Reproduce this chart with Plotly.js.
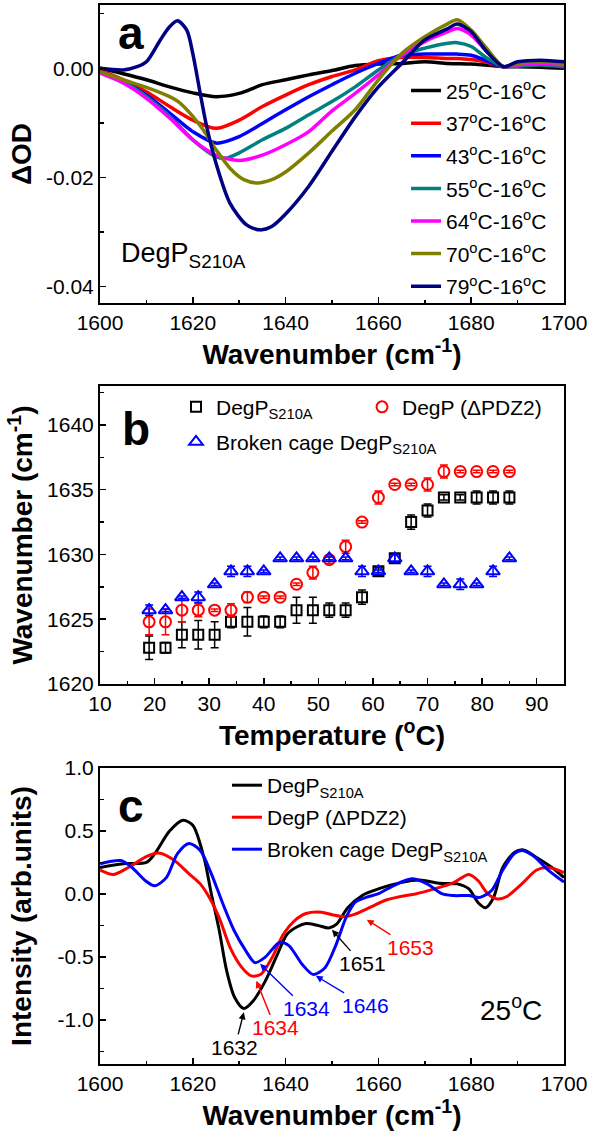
<!DOCTYPE html>
<html><head><meta charset="utf-8">
<script src="https://cdn.plot.ly/plotly-3.0.1.min.js"></script>
<style>html,body{margin:0;padding:0;background:#fff}#chart{width:593px;height:1140px}</style>
</head><body><div id="chart"></div>
<script>
// ---------- Panel a: difference spectra ----------
const aNames = ['25<sup>o</sup>C-16<sup>o</sup>C','37<sup>o</sup>C-16<sup>o</sup>C','43<sup>o</sup>C-16<sup>o</sup>C','55<sup>o</sup>C-16<sup>o</sup>C','64<sup>o</sup>C-16<sup>o</sup>C','70<sup>o</sup>C-16<sup>o</sup>C','79<sup>o</sup>C-16<sup>o</sup>C'];
const aColors = ['#000000','#ff0000','#0000ff','#008080','#ff00ff','#808000','#000080'];
const wn25 = [1600,1605,1610,1615,1620,1625,1630,1635,1640,1645,1650,1655,1660,1665,1670,1675,1680,1683,1687,1690,1695,1700];
const od25 = [0,-0.0010,-0.0021,-0.0034,-0.0045,-0.0052,-0.0046,-0.0030,-0.0021,-0.0012,-0.0004,0.0005,0.0008,0.0009,0.0012,0.0009,0.0008,0.0006,0.0003,0.0003,0.0002,0];
const wn37 = [1600,1605,1610,1615,1620,1625,1630,1635,1640,1645,1650,1655,1660,1665,1670,1675,1677,1680,1683,1687,1690,1695,1700];
const od37 = [-0.0004,-0.0021,-0.0043,-0.0070,-0.0095,-0.0110,-0.0095,-0.0070,-0.0049,-0.0030,-0.0015,-0.0003,0.0014,0.0020,0.0020,0.0018,0.0018,0.0016,0.0012,0.0003,0.0006,0.0009,0.0006];
const wn43 = [1600,1605,1610,1615,1620,1625,1630,1635,1640,1645,1650,1655,1660,1665,1670,1675,1677,1680,1683,1687,1690,1695,1700];
const od43 = [-0.0006,-0.0024,-0.0049,-0.0082,-0.0116,-0.0137,-0.0125,-0.0101,-0.0076,-0.0052,-0.0030,-0.0009,0.0009,0.0024,0.0026,0.0026,0.0026,0.0024,0.0015,0.0003,0.0009,0.0013,0.0009];
const wn55 = [1600,1605,1610,1615,1620,1625,1627,1630,1635,1640,1645,1650,1655,1660,1665,1670,1675,1677,1680,1683,1687,1690,1695,1700];
const od55 = [-0.0006,-0.0024,-0.0052,-0.0088,-0.0131,-0.0162,-0.0165,-0.0155,-0.0131,-0.0110,-0.0085,-0.0061,-0.0034,-0.0003,0.0024,0.0037,0.0046,0.0047,0.0040,0.0021,0.0003,0.0004,0.0006,0.0003];
const wn64 = [1600,1605,1610,1615,1620,1625,1630,1635,1640,1645,1650,1655,1660,1665,1670,1675,1677,1680,1683,1687,1690,1695,1700];
const od64 = [-0.0009,-0.0027,-0.0055,-0.0091,-0.0131,-0.0159,-0.0169,-0.0159,-0.0140,-0.0116,-0.0078,-0.0046,-0.0012,0.0024,0.0049,0.0067,0.0073,0.0061,0.0034,0.0003,0.0006,0.0009,0.0006];
const wn70 = [1600,1605,1610,1615,1617,1620,1622,1625,1628,1631,1634,1637,1640,1645,1650,1655,1660,1665,1670,1675,1677,1680,1683,1687,1690,1695,1700];
const od70 = [-0.0006,-0.0021,-0.0035,-0.0052,-0.0062,-0.0088,-0.0110,-0.0149,-0.0183,-0.0204,-0.0210,-0.0204,-0.0190,-0.0155,-0.0115,-0.0076,-0.0021,0.0027,0.0058,0.0082,0.0089,0.0070,0.0040,0.0003,0.0009,0.0012,0.0009];
const wn79 = [1600,1605,1608,1610,1613,1615,1616.7,1618.7,1620,1621.6,1623,1625,1628,1631.6,1634.5,1637,1640,1645,1650,1655,1660,1665,1670,1675,1677,1680,1683,1687,1690,1695,1700];
const od79 = [0,-0.0003,0.0003,0.0012,0.0052,0.0076,0.0087,0.0070,0.0027,-0.0046,-0.0107,-0.0174,-0.0247,-0.0287,-0.0296,-0.0290,-0.0267,-0.0216,-0.0152,-0.0089,-0.0034,0.0009,0.0052,0.0073,0.0081,0.0067,0.0034,0.0003,0.0012,0.0015,0.0012];
const aX = [wn25,wn37,wn43,wn55,wn64,wn70,wn79];
const aY = [od25,od37,od43,od55,od64,od70,od79];

// ---------- Panel b: band position vs temperature ----------
const temperature = [19,22,25,28,31,34,37,40,43,46,49,52,55,58,61,64,67,70,73,76,79,82,85];
const s210a    = [1622.8,1622.8,1623.8,1623.8,1623.8,1624.8,1624.8,1624.8,1624.8,1625.7,1625.7,1625.7,1625.7,1626.7,1628.7,1629.7,1632.5,1633.4,1634.4,1634.4,1634.4,1634.4,1634.4];
const s210aErr = [0.9,0.4,1.0,1.1,1.0,0.45,1.1,0.45,0.45,1.0,1.0,0.55,0.55,0.55,0.3,0.3,0.55,0.5,0.2,0.2,0.5,0.5,0.5];
const dpdz2    = [1624.8,1624.8,1625.7,1625.7,1625.7,1625.7,1626.7,1626.7,1626.7,1627.7,1628.6,1629.6,1630.6,1632.5,1634.4,1635.4,1635.4,1635.4,1636.4,1636.4,1636.4,1636.4,1636.4];
const dpdz2Err = [1.0,1.0,0.9,0.5,0.1,0.5,0.4,0.1,0.1,0.1,0.5,0.3,0.5,0.1,0.5,0.1,0.1,0.5,0.5,0.1,0.1,0.1,0.1];
const broken    = [1625.7,1625.7,1626.7,1626.7,1627.7,1628.7,1628.7,1628.7,1629.7,1629.7,1629.7,1629.7,1629.7,1628.7,1628.7,1629.7,1628.7,1628.7,1627.7,1627.7,1627.7,1628.7,1629.7];
const brokenErr = [0.4,0.1,0.1,0.4,0.1,0.4,0.4,0.1,0.1,0.1,0.1,0.1,0.1,0.4,0.1,0.3,0.1,0.4,0.1,0.4,0.1,0.4,0.1];

// ---------- Panel c: second-derivative spectra at 25 C ----------
const cWnS210A = [1600,1605,1610,1611.8,1615,1617.9,1620,1622.4,1624,1625.7,1627.3,1629,1631,1633,1635.5,1638,1640.3,1642.5,1644.4,1647,1649.3,1651,1653.4,1656.6,1660,1664.8,1668.9,1673,1677,1679.5,1681.5,1683.1,1684.8,1686.8,1689.3,1691.3,1694.1,1697.4,1700];
const cS210A   = [0.21,0.24,0.25,0.32,0.50,0.585,0.545,0.29,0.0,-0.29,-0.61,-0.82,-0.91,-0.85,-0.70,-0.50,-0.32,-0.26,-0.235,-0.25,-0.27,-0.24,-0.11,-0.01,0.04,0.09,0.11,0.085,0.08,0.04,-0.07,-0.11,-0.03,0.21,0.33,0.35,0.29,0.21,0.13];
const cWnDPDZ2 = [1600,1602.9,1606.1,1610.2,1612.6,1615.9,1619.2,1621.6,1623.6,1625.7,1628.1,1630.6,1632.6,1634.6,1637.1,1639.5,1642,1644.4,1647.7,1650.1,1652.6,1655,1658.3,1661.5,1664.8,1668,1672.1,1676.2,1679.5,1681.5,1683.6,1685.6,1687.7,1690.9,1694.1,1696.6,1700];
const cDPDZ2   = [0.19,0.155,0.21,0.30,0.325,0.27,0.16,0.08,-0.03,-0.19,-0.43,-0.585,-0.65,-0.64,-0.505,-0.32,-0.21,-0.155,-0.145,-0.165,-0.18,-0.16,-0.105,-0.05,-0.02,0.0,0.04,0.09,0.155,0.105,0.0,-0.04,-0.02,0.08,0.19,0.21,0.17];
const cWnBroken = [1600,1604.5,1606.9,1609.8,1611.8,1614.3,1616.7,1619.2,1621.6,1624,1626.5,1628.9,1631.4,1633.4,1635.5,1638.7,1640.7,1643.6,1646,1648.5,1650.9,1653,1655,1657.5,1659.9,1663.2,1667.2,1670.5,1673.8,1676.2,1679.5,1681.9,1684.4,1686.8,1689.3,1690.9,1693.3,1696.6,1700];
const cBroken   = [0.24,0.265,0.21,0.105,0.065,0.13,0.32,0.40,0.345,0.16,-0.08,-0.29,-0.45,-0.545,-0.505,-0.385,-0.41,-0.56,-0.64,-0.585,-0.40,-0.19,-0.065,-0.025,0.0,0.065,0.12,0.08,0.0,-0.013,-0.013,-0.027,0.027,0.19,0.32,0.345,0.305,0.19,0.095];

const peakText  = ['1632','1634','1634','1646','1651','1653'];
const peakX     = [1631,1633.7,1634.5,1646.5,1650,1657.5];
const peakY     = [-0.94,-0.69,-0.555,-0.65,-0.285,-0.204];
const peakColor = ['#000000','#ff0000','#0000ff','#0000ff','#000000','#ff0000'];
const peakAx    = [-9,19,46,50,30,44];
const peakAy    = [35,47,45,30,34,28];

// ---------- build ----------
const FONT = 'Liberation Sans, Arial, sans-serif';
const traces = [];
for (let i = 0; i < aX.length; i++) {
  traces.push({x: aX[i], y: aY[i], type: 'scatter', mode: 'lines', name: aNames[i],
    line: {color: aColors[i], width: 3.5, shape: 'spline', smoothing: 0.8},
    xaxis: 'x', yaxis: 'y', legend: 'legend', legendgroup: 'a' + i});
}
function errb(arr, col) { return {type: 'data', array: arr, visible: true, color: col, thickness: 1.5, width: 4}; }
traces.push({x: temperature, y: s210a, error_y: errb(s210aErr, '#000'), type: 'scatter', mode: 'markers',
  name: 'DegP<sub>S210A</sub>', marker: {symbol: 'square-open', size: 10, color: '#000', line: {width: 2}},
  xaxis: 'x2', yaxis: 'y2', legend: 'legend2'});
traces.push({x: temperature, y: dpdz2, error_y: errb(dpdz2Err, '#ff0000'), type: 'scatter', mode: 'markers',
  name: 'DegP (ΔPDZ2)', marker: {symbol: 'circle-open', size: 11, color: '#ff0000', line: {width: 2}},
  xaxis: 'x2', yaxis: 'y2', legend: 'legend3'});
traces.push({x: temperature, y: broken, error_y: errb(brokenErr, '#0000ff'), type: 'scatter', mode: 'markers',
  name: 'Broken cage DegP<sub>S210A</sub>', marker: {symbol: 'triangle-up-open', size: 12, color: '#0000ff', line: {width: 2}},
  xaxis: 'x2', yaxis: 'y2', legend: 'legend4'});
traces.push({x: cWnS210A, y: cS210A, type: 'scatter', mode: 'lines', name: 'DegP<sub>S210A</sub>',
  line: {color: '#000', width: 3, shape: 'spline', smoothing: 0.8}, xaxis: 'x3', yaxis: 'y3', legend: 'legend5', legendgroup: 'c0'});
traces.push({x: cWnDPDZ2, y: cDPDZ2, type: 'scatter', mode: 'lines', name: 'DegP (ΔPDZ2)',
  line: {color: '#ff0000', width: 3, shape: 'spline', smoothing: 0.8}, xaxis: 'x3', yaxis: 'y3', legend: 'legend5', legendgroup: 'c1'});
traces.push({x: cWnBroken, y: cBroken, type: 'scatter', mode: 'lines', name: 'Broken cage DegP<sub>S210A</sub>',
  line: {color: '#0000ff', width: 3, shape: 'spline', smoothing: 0.8}, xaxis: 'x3', yaxis: 'y3', legend: 'legend5', legendgroup: 'c2'});

function axis(extra) {
  return Object.assign({showline: true, linewidth: 2, linecolor: '#000', mirror: true,
    ticks: 'inside', ticklen: 6, tickwidth: 1.5, tickcolor: '#000', showgrid: false, zeroline: false,
    automargin: false, tickfont: {family: FONT, size: 21, color: '#000'}}, extra);
}
function minor(d, t0) { return {tickmode: 'linear', tick0: t0, dtick: d, ticks: 'inside', ticklen: 3.5, tickwidth: 1.5, tickcolor: '#000', showgrid: false}; }
function ttl(t, so) { return {text: '<b>' + t + '</b>', font: {family: FONT, size: 28, color: '#000'}, standoff: so}; }

const wnTitle = 'Wavenumber (cm<sup>-1</sup>)';
const legFont = {family: FONT, size: 21, color: '#000'};
function leg(x, y, gap) { return {x: x, y: y, xanchor: 'left', yanchor: 'top', bgcolor: 'rgba(0,0,0,0)', borderwidth: 0, font: legFont, tracegroupgap: gap, orientation: 'v'}; }

const annotations = [
  {xref: 'x domain', yref: 'y domain', x: 0.035, y: 0.906, text: '<b>a</b>', font: {family: FONT, size: 46, color: '#000'}, xanchor: 'left', yanchor: 'middle', showarrow: false},
  {xref: 'x2 domain', yref: 'y2 domain', x: 0.043, y: 0.856, text: '<b>b</b>', font: {family: FONT, size: 46, color: '#000'}, xanchor: 'left', yanchor: 'middle', showarrow: false},
  {xref: 'x3 domain', yref: 'y3 domain', x: 0.035, y: 0.872, text: '<b>c</b>', font: {family: FONT, size: 46, color: '#000'}, xanchor: 'left', yanchor: 'middle', showarrow: false},
  {xref: 'x domain', yref: 'y domain', x: 0.04, y: 0.16, text: 'DegP<sub>S210A</sub>', font: {family: FONT, size: 27, color: '#000'}, xanchor: 'left', yanchor: 'middle', showarrow: false},
  {xref: 'x3 domain', yref: 'y3 domain', x: 0.815, y: 0.19, text: '25<sup>o</sup>C', font: {family: FONT, size: 28, color: '#000'}, xanchor: 'left', yanchor: 'middle', showarrow: false}
];
for (let i = 0; i < peakText.length; i++) {
  annotations.push({xref: 'x3', yref: 'y3', x: peakX[i], y: peakY[i], text: peakText[i], ax: peakAx[i], ay: peakAy[i],
    showarrow: true, arrowhead: 2, arrowsize: 1, arrowwidth: 1.4, arrowcolor: peakColor[i],
    font: {family: FONT, size: 21, color: peakColor[i]}});
}

const layout = {
  width: 593, height: 1140, margin: {l: 100, r: 29, t: 5, b: 76},
  paper_bgcolor: '#fff', plot_bgcolor: '#fff', font: {family: FONT, color: '#000'},
  showlegend: true,
  xaxis: axis({domain: [0, 1], anchor: 'y', range: [1600, 1700], tick0: 1600, dtick: 20, minor: minor(10, 1600), title: ttl(wnTitle, 10)}),
  yaxis: axis({domain: [0.7186, 1], anchor: 'x', range: [-0.043, 0.0116], tickmode: 'array', tickvals: [0, -0.02, -0.04], ticktext: ['0.00', '-0.02', '-0.04'], minor: minor(0.01, 0), title: ttl('ΔOD', 6)}),
  xaxis2: axis({domain: [0, 1], anchor: 'y2', range: [10, 95], tick0: 10, dtick: 10, minor: minor(5, 10), title: ttl('Temperature (<sup>o</sup>C)', 10)}),
  yaxis2: axis({domain: [0.3588, 0.6402], anchor: 'x2', range: [1620, 1643], tick0: 1620, dtick: 5, minor: minor(2.5, 1620), title: ttl(wnTitle, 6)}),
  xaxis3: axis({domain: [0, 1], anchor: 'y3', range: [1600, 1700], tick0: 1600, dtick: 20, minor: minor(10, 1600), title: ttl(wnTitle, 10)}),
  yaxis3: axis({domain: [0, 0.2795], anchor: 'x3', range: [-1.35, 1.0], tickmode: 'array', tickvals: [1, 0.5, 0, -0.5, -1], ticktext: ['1.0', '0.5', '0.0', '-0.5', '-1.0'], minor: minor(0.25, 0), title: ttl('Intensity (arb.units)', 18)}),
  legend: leg(0.6595, 0.9382, 2.3),
  legend2: leg(0.1638, 0.6396, 0),
  legend3: leg(0.5647, 0.6396, 0),
  legend4: leg(0.1638, 0.6065, 0),
  legend5: leg(0.2737, 0.2823, 1.7),
  annotations: annotations
};

Plotly.newPlot('chart', traces, layout, {staticPlot: true, displayModeBar: false});
</script></body></html>
